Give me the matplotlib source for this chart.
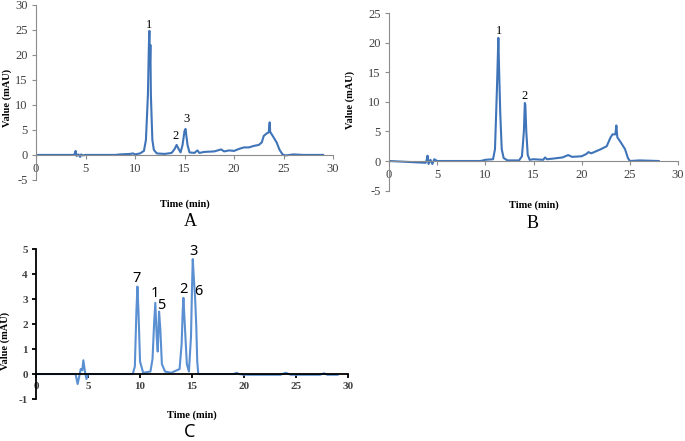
import matplotlib
matplotlib.use("Agg")
import matplotlib.pyplot as plt

plt.rcParams["axes.unicode_minus"] = False

# chromatogram A (time in min, value in mAU)
tA = [0, 3.8, 3.9, 4.0, 4.1, 4.3, 4.45, 4.55, 4.7, 5.0, 8.0, 8.5, 9.5, 9.8, 10.0, 10.5, 10.9,
      11.1, 11.3, 11.4, 11.45, 11.5, 11.55, 11.6, 11.75, 11.9, 12.2, 13.0, 13.7, 14.0, 14.2,
      14.4, 14.6, 14.8, 15.0, 15.1, 15.3, 15.5, 16.0, 16.3, 16.5, 17.0, 18.0, 18.7, 19.0,
      19.5, 20.0, 20.5, 21.0, 21.5, 22.0, 22.5, 22.8, 23.0, 23.3, 23.5, 23.6, 23.65, 24.0,
      24.3, 24.6, 24.9, 25.2, 26.0, 27.0, 29.0]
vA = [0, 0, 0.2, 0.8, -0.2, 0.1, -0.4, 0.1, -0.1, 0, 0, 0.1, 0.2, 0.3, 0.1, 0.3, 0.8,
      3, 12, 22, 24.8, 18, 22, 12, 3, 1, 0.3, 0.2, 0.4, 1.2, 2.0,
      1.2, 0.5, 2.0, 4.8, 5.2, 2.0, 0.5, 0.4, 0.9, 0.4, 0.6, 0.7, 1.1, 0.7,
      0.9, 0.8, 1.2, 1.5, 1.5, 1.8, 2.0, 2.5, 3.8, 4.3, 4.5, 6.5, 4.6, 3.5,
      2.5, 1.0, 0.1, -0.1, 0.1, 0, 0]
labelsA = ["1", "2", "3"]
labxA = [11.45, 14.1, 15.15]
labyA = [26.0, 3.7, 7.2]

# chromatogram B
tB = [0, 3.8, 3.9, 4.0, 4.1, 4.3, 4.5, 4.7, 5.0, 9.5, 10.0, 10.8, 11.0, 11.2, 11.35, 11.45,
      11.55, 11.7, 11.9, 12.3, 13.5, 13.8, 14.0, 14.1, 14.15, 14.25, 14.4, 14.6, 15.0,
      16.0, 16.2, 16.4, 17.0, 18.0, 18.6, 19.0, 20.0, 20.5, 20.7, 21.0, 22.0, 22.6, 23.0,
      23.2, 23.5, 23.6, 23.7, 24.0, 24.5, 24.8, 25.0, 26.0, 28.0]
vB = [0, -0.3, 0.1, 0.9, -0.5, 0.2, -0.5, 0.3, 0, 0, 0.2, 0.3, 2, 12, 20.8, 14,
      8, 2, 0.5, 0.1, 0.1, 0.8, 5, 9.8, 9.5, 5, 1, 0.2, 0.3,
      0.2, 0.6, 0.3, 0.4, 0.6, 1.0, 0.7, 0.8, 1.2, 1.5, 1.3, 2.0, 2.5, 4.0,
      4.5, 4.5, 6.0, 4.0, 3.3, 2.0, 0.5, 0, 0.1, 0]
labelsB = ["1", "2"]
labxB = [11.4, 14.1]
labyB = [22.0, 10.9]

# chromatogram C (standards)
tC = [0, 3.8, 4.0, 4.15, 4.3, 4.45, 4.55, 4.7, 4.85, 5.0, 5.5, 9.3, 9.5, 9.65, 9.75, 9.85,
      10.0, 10.3, 11.0, 11.2, 11.35, 11.47, 11.6, 11.7, 11.83, 11.95, 12.1, 12.4, 13.0,
      13.8, 14.0, 14.1, 14.17, 14.3, 14.5, 14.7, 14.9, 15.0, 15.07, 15.15, 15.3, 15.4,
      15.5, 15.6, 16.0, 19.0, 19.3, 19.5, 20.0, 23.5, 24.0, 24.5, 27.3, 27.7, 28.0, 29.0]
vC = [0, 0, -0.4, -0.1, 0.2, 0.15, 0.55, 0.1, -0.2, 0, 0, 0, 0.3, 2.5, 3.5, 2.5,
      0.5, 0.05, 0.1, 0.6, 2.0, 2.85, 1.5, 0.9, 2.5, 1.8, 0.4, 0.1, 0.05,
      0.2, 1.2, 2.5, 3.05, 2.0, 0.4, 0.1, 1.5, 3.5, 4.6, 4.0, 3.0, 2.0,
      0.5, 0, 0, 0, 0.05, 0, -0.03, -0.03, 0.05, -0.03, -0.03, 0.03, -0.03, -0.03]
labelsC = ["7", "1", "5", "2", "3", "6"]
labxC = [9.7, 11.4, 12.0, 14.2, 15.16, 15.6]
labyC = [3.83, 3.23, 2.76, 3.39, 4.89, 3.3]

serif = ["Liberation Serif", "DejaVu Serif"]
sans = ["Noto Sans", "DejaVu Sans"]

fig = plt.figure(figsize=(6.85, 4.41), dpi=100)


def style(ax, ymin, ymax, ystep, axcol, bold, xlab_y, ylab_x, ylab_y):
    ax.set_xlim(0, 30)
    ax.set_ylim(ymin, ymax)
    ax.set_xticks(range(0, 31, 5))
    ax.set_yticks(range(ymin, ymax + 1, ystep))
    for s in ["top", "right"]:
        ax.spines[s].set_visible(False)
    ax.spines["bottom"].set_position(("data", 0))
    ax.spines["bottom"].set_color(axcol)
    ax.spines["left"].set_color(axcol)
    lw = 1.3 if bold else 0.8
    ax.spines["bottom"].set_linewidth(lw)
    ax.spines["left"].set_linewidth(lw)
    ax.tick_params(direction="out", length=3, width=lw, color=axcol,
                   labelcolor="#404040", labelsize=9, pad=3)
    for lab in ax.get_xticklabels() + ax.get_yticklabels():
        lab.set_fontfamily(serif)
        if bold:
            lab.set_fontweight("bold")
            lab.set_fontsize(8)
    ax.set_xlabel("Time (min)", fontsize=7.5, fontweight="bold", family=serif)
    ax.set_ylabel("Value (mAU)", fontsize=7.5, fontweight="bold", family=serif)
    ax.xaxis.set_label_coords(0.5, xlab_y)
    ax.yaxis.set_label_coords(ylab_x, ylab_y)


# panel A
axA = fig.add_axes([0.0526, 0.592, 0.4336, 0.397])
axA.plot(tA, vA, color="#3f74b9", lw=1.5)
style(axA, -5, 30, 5, "#8c8c8c", False, -0.114, -0.082, 0.47)
for s, x, y in zip(labelsA, labxA, labyA):
    axA.text(x, y, s, ha="center", va="center", fontsize=9, family=serif)

# panel B
axB = fig.add_axes([0.5679, 0.5678, 0.4219, 0.4027])
axB.plot(tB, vB, color="#3f74b9", lw=1.5)
style(axB, -5, 25, 5, "#8c8c8c", False, -0.053, -0.118, 0.51)
for s, x, y in zip(labelsB, labxB, labyB):
    axB.text(x, y, s, ha="center", va="center", fontsize=9, family=serif)

# panel C
axC = fig.add_axes([0.0526, 0.0952, 0.4555, 0.340])
axC.plot(tC, vC, color="#5a8fd2", lw=1.5)
style(axC, -1, 5, 1, "#000000", True, -0.073, -0.083, 0.39)
for s, x, y in zip(labelsC, labxC, labyC):
    axC.text(x, y, s, ha="center", va="center", fontsize=10.5, family=sans)

fig.text(190 / 685, 1 - 222 / 441, "A", ha="center", va="center", fontsize=13, family=serif)
fig.text(533 / 685, 1 - 223 / 441, "B", ha="center", va="center", fontsize=13, family=serif)
fig.text(190 / 685, 1 - 432 / 441, "C", ha="center", va="center", fontsize=13, family=sans)

fig.savefig("out.png", dpi=100)
